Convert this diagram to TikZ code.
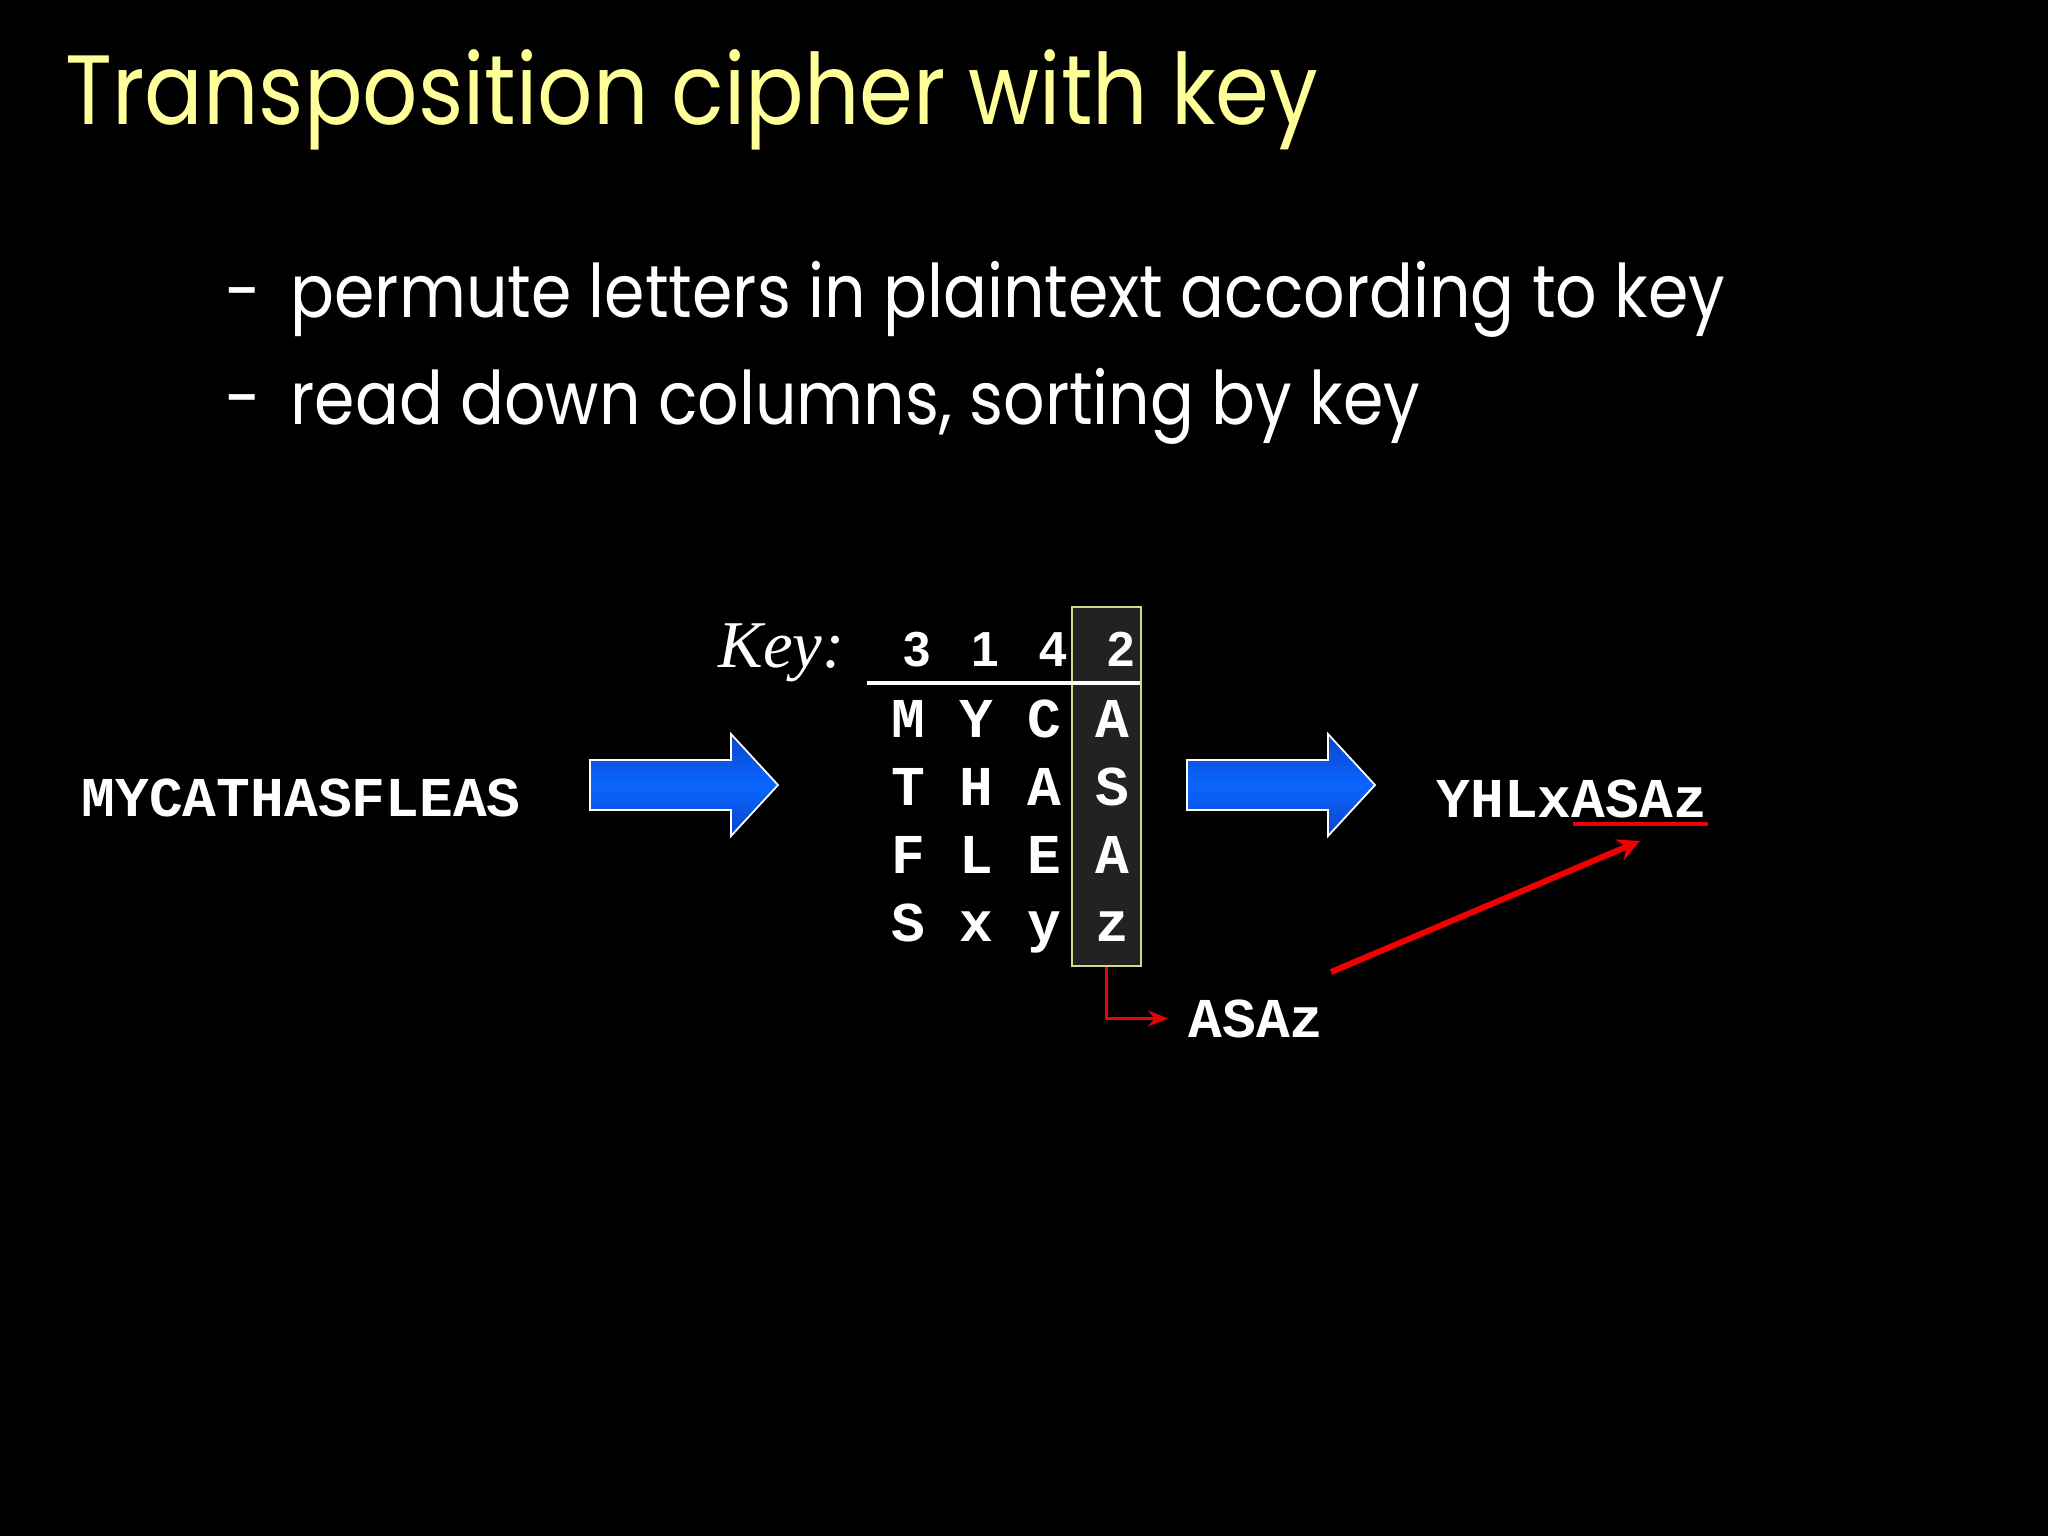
\documentclass[tikz,border=0pt]{standalone}
\usepackage{fontspec}
\usetikzlibrary{arrows.meta}
\setmainfont{Poppins}[FakeStretch=0.88]
\newfontfamily\courfont{Liberation Mono}
\newfontfamily\keyfont{Liberation Serif}
\newfontfamily\digitfont{Liberation Sans}
\definecolor{titleyellow}{HTML}{FFFF99}
\definecolor{arrowmid}{HTML}{0A66FF}
\definecolor{arrowedge}{HTML}{0A45CC}
\definecolor{boxgray}{HTML}{222222}
\definecolor{boxline}{HTML}{D8D88C}
\definecolor{hotred}{HTML}{F00000}
% fat blue arrow, #1 = left end of the shaft
\newcommand{\bluearrow}[1]{%
  \shadedraw[top color=arrowedge, bottom color=arrowedge, middle color=arrowmid, draw=white, line width=0.5pt]
    (#1,760) -- ++(141,0) -- ++(0,-26) -- ++(47,51) -- ++(-47,51) -- ++(0,-26) -- ++(-141,0) -- cycle;}
\begin{document}
\begin{tikzpicture}[x=0.01cm,y=-0.01cm]
\fill[black] (0,0) rectangle (2048,1536);
\useasboundingbox (0,0) rectangle (2048,1536);
\tikzstyle{every node} = [inner sep=0pt, text=white]
\tikzstyle{mono} = [font=\courfont\bfseries\fontsize{16}{19}\selectfont]
\tikzstyle{colbox} = [draw=boxline, fill=boxgray, line width=0.6pt, minimum width=0.69cm, minimum height=3.59cm]
\tikzstyle{redline} = [hotred, line width=0.9pt, -{Stealth[length=0.2cm, width=0.16cm]}]
\tikzstyle{redarrow} = [hotred, line width=1.7pt, -{Stealth[length=0.22cm, width=0.22cm]}]
% heading and bullets
\node[anchor=base west, text=titleyellow, font=\fontsize{28}{34}\selectfont] (title) at (65,124) {Transposition cipher with key};
\node[anchor=base west, font=\fontsize{21}{25}\selectfont] (b1) at (225,317) {\makebox[0.65cm][l]{-}permute letters in plaintext according to key};
\node[anchor=base west, font=\fontsize{21}{25}\selectfont] (b2) at (225,424) {\makebox[0.65cm][l]{-}read down columns, sorting by key};
% the key column
\node[colbox] (col) at (1106.5,786.5) {};
\draw[white, line width=1.4pt] (867,683) -- (1140,683);
\node[anchor=base west, font=\keyfont\itshape\fontsize{19}{23}\selectfont] (key) at (718,667) {Key:};
\foreach \k [count=\c] in {3,1,4,2}
  \node[anchor=base, font=\digitfont\bfseries\fontsize{14}{17}\selectfont] (k\c) at ({917+68*(\c-1)},666) {\k};
\foreach \a/\b/\d/\e [count=\r] in {M/Y/C/A, T/H/A/S, F/L/E/A, S/x/y/z} {
  \node[mono, anchor=base] (m\r1) at (908,{737+68.3*(\r-1)}) {\a};
  \node[mono, anchor=base] (m\r2) at (976,{737+68.3*(\r-1)}) {\b};
  \node[mono, anchor=base] (m\r3) at (1044,{737+68.3*(\r-1)}) {\d};
  \node[mono, anchor=base] (m\r4) at (1112,{737+68.3*(\r-1)}) {\e};
}
% plaintext, ciphertext
\node[mono, anchor=base west] (plain) at (81,816) {MYCATHASFLEAS};
\node[mono, anchor=base west] (cipher) at (1436,817) {YHLxASAz};
\node[mono, anchor=base west] (asaz) at (1188,1037) {ASAz};
\bluearrow{590}
\bluearrow{1187}
% red marks
\draw[redline] (col.south) |- ([xshift=-0.2cm]asaz.west);
\coordinate (ul1) at ([shift={(-38.4pt,-2pt)}]cipher.base east);
\coordinate (ul2) at ([yshift=-2pt]cipher.base east);
\draw[hotred, line width=1pt] (ul1) -- (ul2) coordinate[midway] (ulmid);
\coordinate (tail) at (1331,972);
\draw[redarrow] (tail) -- ([yshift=-0.17cm]ulmid);
\end{tikzpicture}
\end{document}
